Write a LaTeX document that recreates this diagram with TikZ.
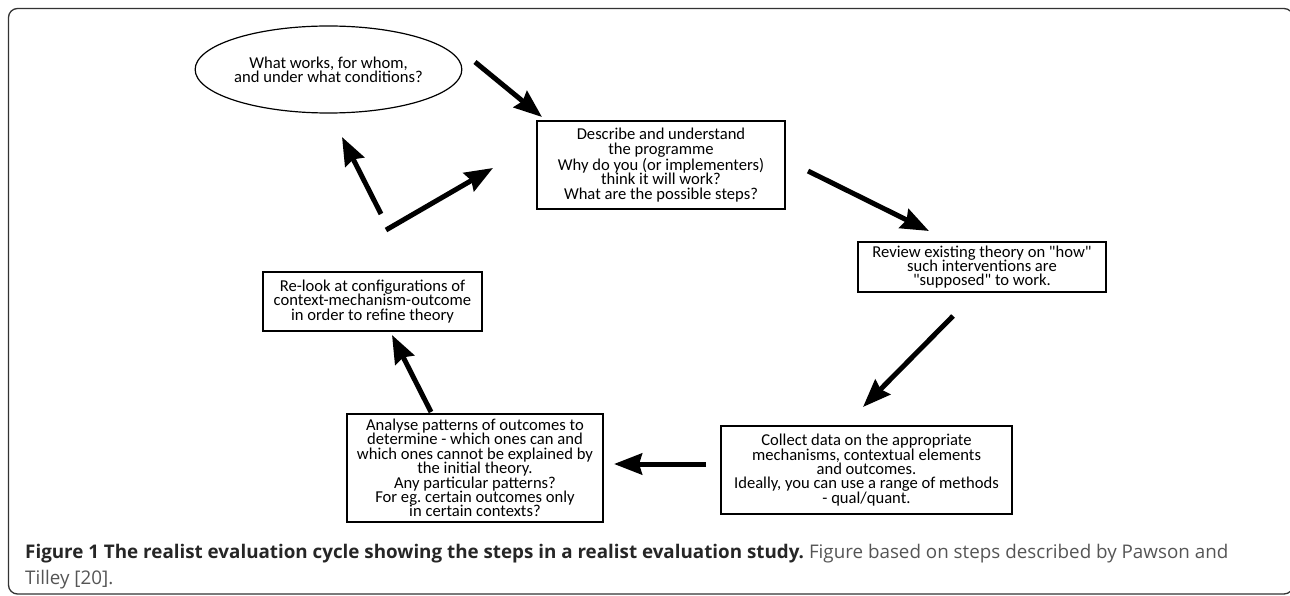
\documentclass[tikz,border=0pt]{standalone}
\usepackage{fontspec}
\setmainfont{Carlito}
\newfontfamily\capfont{Open Sans}
\usetikzlibrary{arrows.meta,shapes.geometric}
\frenchspacing
\definecolor{framegray}{HTML}{333333}
\definecolor{capgray}{HTML}{555555}
\newcommand\sqt{\XeTeXglyph\XeTeXcharglyph"22\relax}
\tikzset{
  stepbox/.style={draw, line width=1.5pt, align=center, inner sep=0pt,
    font=\fontsize{16.6}{14.4}\selectfont},
  bigarrow/.style={line width=5pt, -{Stealth[length=28pt,width=21pt,inset=3pt]}},
}
\begin{document}
\begin{tikzpicture}[x=1pt,y=-1pt]
\useasboundingbox (0,0) rectangle (1290,596);
\draw[framegray, line width=1.3pt, rounded corners=9pt] (8.5,8.5) rectangle (1293,594);

\node[stepbox, ellipse, line width=1.2pt, minimum width=263pt, minimum height=87pt] (q) at (328.5,69.5)
  {What works, for whom,\\and under what conditions?};
\node[stepbox, minimum width=248pt, minimum height=88pt] (describe) at (661,165)
  {Describe and understand\\the programme\\Why do you (or implementers)\\think it will work?\\What are the possible steps?};
\node[stepbox, minimum width=248pt, minimum height=50pt] (review) at (982,267)
  {Review existing theory on \sqt how\sqt\\such interventions are\\\sqt supposed\sqt\ to work.};
\node[stepbox, minimum width=291pt, minimum height=88pt] (collect) at (866.5,470)
  {Collect data on the appropriate\\mechanisms, contextual elements\\and outcomes.\\Ideally, you can use a range of methods\\- qual/quant.};
\node[stepbox, minimum width=256pt, minimum height=108pt] (analyse) at (475,468)
  {Analyse patterns of outcomes to\\determine - which ones can and\\which ones cannot be explained by\\the initial theory.\\Any particular patterns?\\For eg. certain outcomes only\\in certain contexts?};
\node[stepbox, minimum width=219pt, minimum height=59pt] (relook) at (372.5,301.5)
  {Re-look at configurations of\\context-mechanism-outcome\\in order to refine theory};

\coordinate (a1s) at (475,62);   \coordinate (a1e) at (542,117);
\coordinate (a2s) at (808,171);  \coordinate (a2e) at (929,231);
\coordinate (a3s) at (953,316);  \coordinate (a3e) at (863,407);
\coordinate (a4s) at (706,464);  \coordinate (a4e) at (614,464);
\coordinate (a5s) at (431,412);  \coordinate (a5e) at (392,335);
\coordinate (a6s) at (381,214);  \coordinate (a6e) at (342,137);
\coordinate (a7s) at (386,230);  \coordinate (a7e) at (493,168);

\draw[bigarrow] (a1s) -- (a1e);
\draw[bigarrow] (a2s) -- (a2e);
\draw[bigarrow] (a3s) -- (a3e);
\draw[bigarrow] (a4s) -- (a4e);
\draw[bigarrow] (a5s) -- (a5e);
\draw[bigarrow] (a6s) -- (a6e);
\draw[bigarrow] (a7s) -- (a7e);

\node[anchor=base west, inner sep=0pt, font=\capfont\fontsize{18.8}{22}\selectfont] (cap1) at (25,558)
  {\textbf{\color{black!85}Figure 1 The realist evaluation cycle showing the steps in a realist evaluation study.} \color{capgray}Figure based on steps described by Pawson and};
\node[anchor=base west, inner sep=0pt, font=\capfont\fontsize{18.8}{22}\selectfont, text=capgray] (cap2) at (25,584)
  {Tilley [20].};
\end{tikzpicture}
\end{document}
